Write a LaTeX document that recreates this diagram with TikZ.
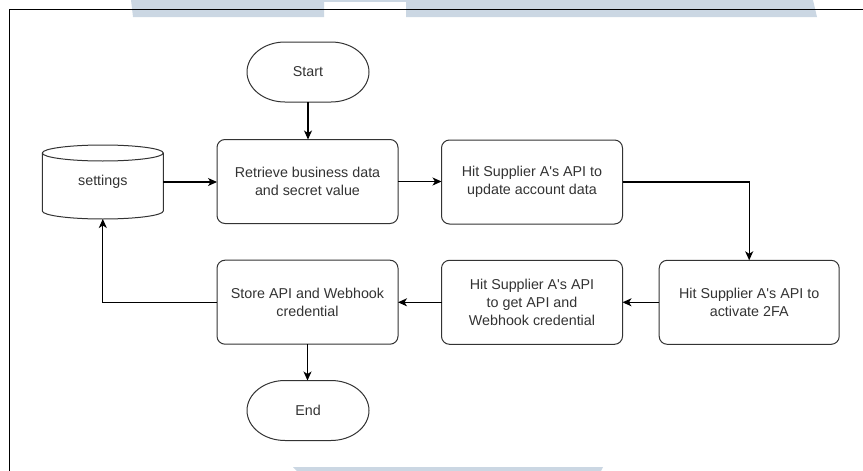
\documentclass[tikz,border=0pt]{standalone}
\usepackage{fontspec}
\setmainfont{Liberation Sans}
\usetikzlibrary{arrows.meta}
\definecolor{band}{HTML}{CBD7E3}
\definecolor{ink}{HTML}{333333}
\tikzset{
  px/.style={x=1pt,y=-1pt},
  box/.style={draw=ink,line width=1pt,rounded corners=8pt,fill=white,align=center,
    inner sep=0pt,outer sep=0pt,text=ink,font=\fontsize{14.3}{18.3}\selectfont},
  plain/.style={draw=none,align=center,inner sep=0pt,outer sep=0pt,text=ink,
    font=\fontsize{14.3}{18.3}\selectfont},
  outline/.style={draw=ink,line width=1pt,fill=white},
  flow/.style={draw=black,line width=1.1pt,-{Stealth[length=9pt,width=8pt,inset=2.5pt]}},
}
\newcommand{\apos}{\textquotesingle}
% terminator outline with elliptic ends around a node
\newcommand{\terminal}[1]{%
  \path[outline] ([xshift=38pt]#1.north west) -- ([xshift=-38pt]#1.north east)
    arc[start angle=90,end angle=-90,x radius=38pt,y radius=30pt]
    -- ([xshift=38pt]#1.south west)
    arc[start angle=270,end angle=90,x radius=38pt,y radius=30pt] -- cycle;}
\begin{document}
\begin{tikzpicture}[px]
\useasboundingbox (0,0) rectangle (863,471);
% decorative bands at the top and bottom edge
\fill[band] (131,0) -- (324,0) -- (324,17) -- (133,17) -- cycle;
\fill[band] (324,0) rectangle (406,1.5);
\fill[band] (406,0) -- (813,0) -- (817,17) -- (406,17) -- cycle;
\fill[band] (293,467) -- (603,467) -- (601,471) -- (297,471) -- cycle;
% page frame
\draw[black,line width=1.2pt] (9.5,471) -- (9.5,9.5) -- (863,9.5);

% terminators
\node[plain,minimum width=122pt,minimum height=60pt] (start) at (308,72) {};
\terminal{start}
\node[plain] at (start) {Start};
\node[plain,minimum width=122pt,minimum height=60pt] (end) at (308,410.5) {};
\terminal{end}
\node[plain] at (end) {End};

% database
\node[plain,minimum width=121pt,minimum height=74pt] (settings) at (102.8,182) {};
\path[outline] ([yshift=-8pt]settings.north west) -- ([yshift=8pt]settings.south west)
  arc[start angle=180,end angle=360,x radius=60.5pt,y radius=8pt]
  -- ([yshift=-8pt]settings.north east)
  arc[start angle=0,end angle=180,x radius=60.5pt,y radius=8pt] -- cycle;
\draw[draw=ink,line width=1pt] ([yshift=-8pt]settings.north west)
  arc[start angle=180,end angle=360,x radius=60.5pt,y radius=8pt];
\node[plain] at (settings) {settings};

% process steps
\node[box,minimum width=181pt,minimum height=84pt] (retrieve) at (307.5,181.5)
  {Retrieve business data\\and secret value};
\node[box,minimum width=181pt,minimum height=84pt] (update) at (532,182)
  {Hit Supplier A\apos s API to\\update account data};
\node[box,minimum width=180pt,minimum height=84pt] (twofa) at (749.2,302.3)
  {Hit Supplier A\apos s API to\\activate 2FA};
\node[box,minimum width=181pt,minimum height=84pt] (getapi) at (532,302.3)
  {Hit Supplier A\apos s API\\to get API and\\Webhook credential};
\node[box,minimum width=181pt,minimum height=84pt] (store) at (307.5,302.2)
  {Store API and Webhook\\credential};

% connectors
\draw[flow] (start.south) -- (start.south |- retrieve.north);
\draw[flow] (settings.east) -- (settings.east -| retrieve.west);
\draw[flow] (retrieve.east) -- (retrieve.east -| update.west);
\draw[flow] (update.east) -| (twofa.north);
\draw[flow] (twofa.west) -- (twofa.west -| getapi.east);
\draw[flow] (getapi.west) -- (getapi.west -| store.east);
\draw[flow] (store.west) -| (settings.south);
\draw[flow] (store.south) -- (store.south |- end.north);
\end{tikzpicture}
\end{document}
